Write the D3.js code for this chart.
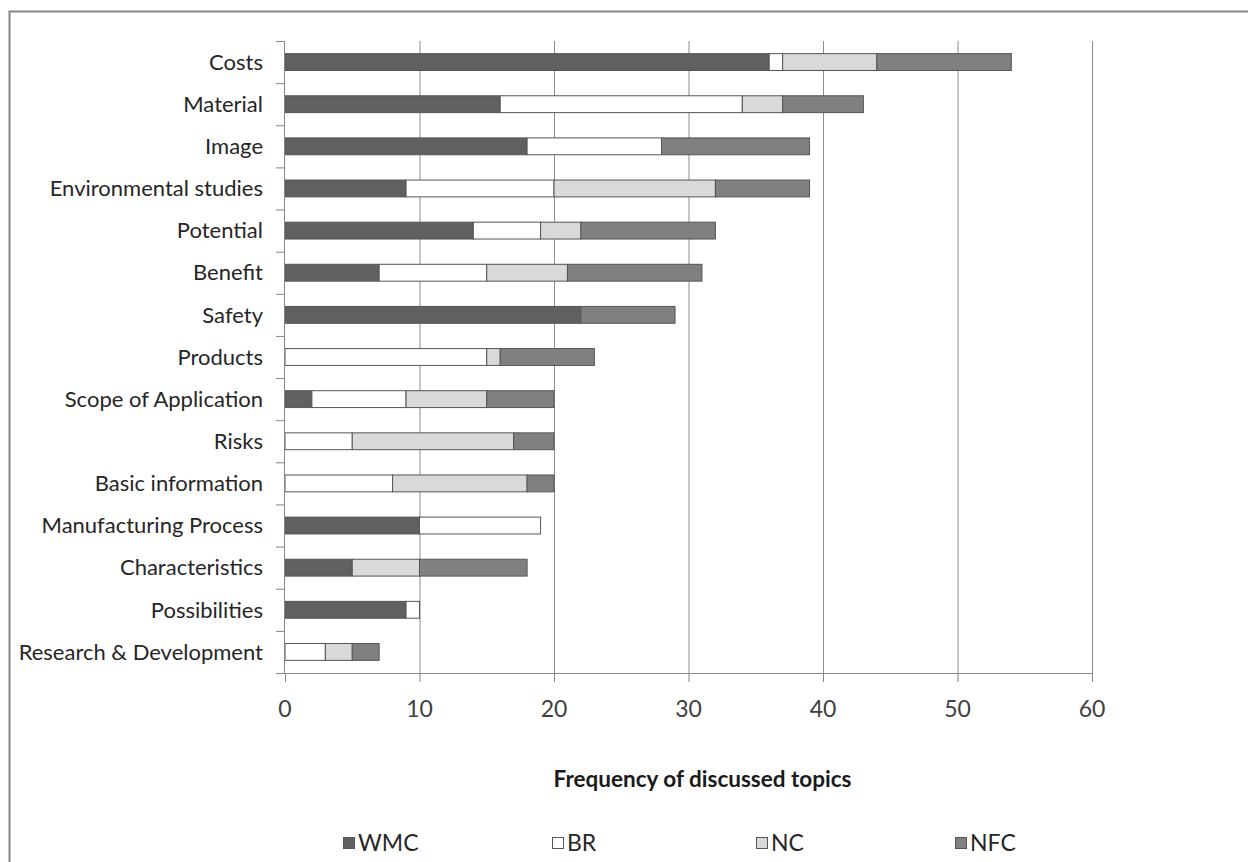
<!DOCTYPE html>
<html><head><meta charset="utf-8">
<script src="https://cdn.jsdelivr.net/npm/d3@7"></script>
<style>body{margin:0;background:#fff}svg{display:block}</style>
</head><body>
<svg id="chart" width="1248" height="862"></svg>
<script>
const categories = ["Costs","Material","Image","Environmental studies","Potential","Benefit","Safety","Products","Scope of Application","Risks","Basic information","Manufacturing Process","Characteristics","Possibilities","Research & Development"];
const seriesNames = ["WMC","BR","NC","NFC"];
const WMC = [36,16,18,9,14,7,22,0,2,0,0,10,5,9,0];
const BR  = [1,18,10,11,5,8,0,15,7,5,8,9,0,1,3];
const NC  = [7,3,0,12,3,6,0,1,6,12,10,0,5,0,2];
const NFC = [10,6,11,7,10,10,7,7,5,3,2,0,8,0,2];
const xTicks = [0,10,20,30,40,50,60];
const xTitle = "Frequency of discussed topics";
const colors = {WMC:"#606060",BR:"#ffffff",NC:"#d9d9d9",NFC:"#808080"};

(function(){
const svg = d3.select("#chart");
const font = "Lato, 'Open Sans', sans-serif";
// outer frame
svg.append("rect").attr("x",9.5).attr("y",11.5).attr("width",1260).attr("height",870)
  .attr("fill","none").attr("stroke","#868686").attr("stroke-width",2);

const pL=285, pR=1092, pT=41, pB=673;
const x = d3.scaleLinear().domain([0,60]).range([pL,pR]);
const y = d3.scaleBand().domain(categories).range([pT,pB]).paddingInner(0.6).paddingOuter(0.3);

const data = categories.map((c,i)=>({cat:c,WMC:WMC[i],BR:BR[i],NC:NC[i],NFC:NFC[i]}));
const stack = d3.stack().keys(seriesNames)(data);

// gridlines
svg.append("g").selectAll("line").data(xTicks.slice(1)).join("line")
  .attr("x1",d=>x(d)+0.5).attr("x2",d=>x(d)+0.5).attr("y1",pT).attr("y2",pB)
  .attr("stroke","#8c8c8c").attr("stroke-width",1);

// bars
svg.append("g").selectAll("g").data(stack).join("g")
  .attr("fill",d=>colors[d.key])
  .selectAll("rect").data(d=>d.filter(s=>s[1]-s[0]>0)).join("rect")
  .attr("x",d=>x(d[0])).attr("width",d=>x(d[1])-x(d[0]))
  .attr("y",d=>y(d.data.cat)).attr("height",y.bandwidth())
  .attr("stroke","#555").attr("stroke-width",1);

// y axis
const band = (pB-pT)/categories.length;
const ya = svg.append("g");
ya.append("line").attr("x1",pL-0.5).attr("x2",pL-0.5).attr("y1",pT).attr("y2",pB)
  .attr("stroke","#868686");
ya.selectAll("line.t").data(d3.range(categories.length+1)).join("line").attr("class","t")
  .attr("x1",pL-9).attr("x2",pL).attr("y1",i=>pT+i*band+0.5).attr("y2",i=>pT+i*band+0.5)
  .attr("stroke","#868686");
ya.selectAll("text").data(categories).join("text")
  .attr("x",263).attr("y",d=>y(d)+y.bandwidth()/2).attr("dy","0.35em")
  .attr("text-anchor","end").attr("font-family",font).attr("font-size",22)
  .attr("fill","#262626").text(d=>d);

// x axis
const xa = svg.append("g");
xa.append("line").attr("x1",pL-9).attr("x2",pR).attr("y1",pB+0.5).attr("y2",pB+0.5)
  .attr("stroke","#868686");
xa.selectAll("line.t").data(xTicks).join("line").attr("class","t")
  .attr("x1",d=>x(d)+0.5).attr("x2",d=>x(d)+0.5).attr("y1",pB).attr("y2",pB+9)
  .attr("stroke","#868686");
xa.selectAll("text").data(xTicks).join("text")
  .attr("x",d=>x(d)).attr("y",709).attr("dy","0.35em").attr("text-anchor","middle")
  .attr("font-family",font).attr("font-size",23).attr("fill","#404040").text(d=>d);

svg.append("text").attr("x",(553+852)/2).attr("y",779).attr("dy","0.35em")
  .attr("text-anchor","middle").attr("font-family",font).attr("font-weight","bold")
  .attr("font-size",22.5).attr("fill","#1a1a1a").text(xTitle);

// legend
const legX = [343,552,756,955];
const lg = svg.append("g").selectAll("g").data(seriesNames).join("g")
  .attr("transform",(d,i)=>`translate(${legX[i]},843)`);
lg.append("rect").attr("x",0.5).attr("y",-5.5).attr("width",11).attr("height",11)
  .attr("fill",d=>colors[d]).attr("stroke","#555");
lg.append("text").attr("x",15).attr("y",0).attr("dy","0.35em").attr("font-family",font)
  .attr("font-size",23).attr("fill","#262626").text(d=>d);
})();
</script>
</body></html>
